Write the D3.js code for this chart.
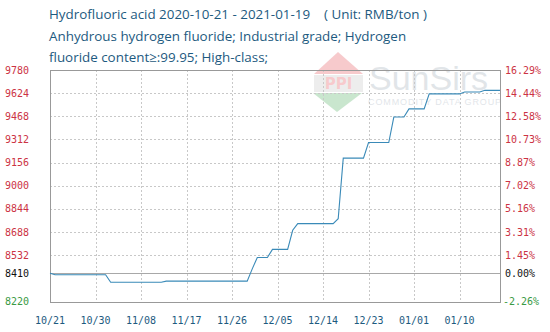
<!DOCTYPE html>
<html><head><meta charset="utf-8">
<script src="https://cdn.jsdelivr.net/npm/d3@7"></script>
<style>html,body{margin:0;padding:0;background:#fff;}svg{display:block;}</style>
</head><body>
<svg id="chart" width="550" height="332"></svg>
<script>
// ---- data ----
const titleLines = [
  "Hydrofluoric acid 2020-10-21 - 2021-01-19    ( Unit: RMB/ton )",
  "Anhydrous hydrogen fluoride; Industrial grade; Hydrogen",
  "fluoride content\u2265:99.95; High-class;"
];
const dates = ["2020-10-21","2020-10-22","2020-11-01","2020-11-02","2020-11-12","2020-11-13",
  "2020-11-29","2020-11-30","2020-12-01","2020-12-03","2020-12-04","2020-12-07","2020-12-08",
  "2020-12-09","2020-12-16","2020-12-17","2020-12-18","2020-12-22","2020-12-23","2020-12-27",
  "2020-12-28","2020-12-30","2020-12-31","2021-01-03","2021-01-04","2021-01-10","2021-01-11",
  "2021-01-14","2021-01-15","2021-01-18"];
const prices = [8410,8400,8400,8350,8350,8357,8357,8440,8517,8517,8571,8571,8700,8745,8745,8778,
  9186,9186,9291,9291,9463,9463,9518,9518,9619,9619,9632,9632,9643,9643];
const xTickDates = ["2020-10-21","2020-10-30","2020-11-08","2020-11-17","2020-11-26","2020-12-05",
  "2020-12-14","2020-12-23","2021-01-01","2021-01-10"];
const xTickLabels = ["10/21","10/30","11/08","11/17","11/26","12/05","12/14","12/23","01/01","01/10"];
const yTicks = [9780,9624,9468,9312,9156,9000,8844,8688,8532,8410,8220];
const pctLabels = ["16.29%","14.44%","12.58%","10.73%","8.87%","7.02%","5.16%","3.31%","1.45%","0.00%","-2.26%"];
const basePrice = 8410;
const xDomain = ["2020-10-21","2021-01-18"];
const yDomain = [8220, 9780];

// ---- layout ----
const L = 50, R = 500, T = 70, B = 301.5;
const parse = d3.utcParse("%Y-%m-%d");
const svg = d3.select("#chart");
const x = d3.scaleUtc().domain(xDomain.map(parse)).range([L, R]);
const y = d3.scaleLinear().domain(yDomain).range([B, T]);

const titleColor = "#1d5a80";
const red = "#cc3344", green = "#3a9a44", black = "#111";
const colorFor = v => v > basePrice ? red : (v < basePrice ? green : black);

// title
svg.append("g").selectAll("text").data(titleLines).join("text")
  .attr("x", 49).attr("y", (d,i) => 19 + i*21.5)
  .attr("fill", titleColor)
  .style("white-space", "pre")
  .style("font-family", "'Open Sans', sans-serif").style("font-size", "13.4px")
  .text(d => d);

// watermark
const wm = svg.append("g").attr("opacity", 0.25);
wm.append("path").attr("d", "M338,52 L363,74 L314,74 Z").attr("fill", "#e0303a");
wm.append("rect").attr("x", 314).attr("y", 75).attr("width", 49).attr("height", 17).attr("fill", "#bbbbbb");
wm.append("text").attr("x", 338.5).attr("y", 89).attr("text-anchor", "middle")
  .attr("fill", "#e0303a").style("font-family", "'DejaVu Sans', sans-serif")
  .style("font-size", "15px").style("font-weight", "bold").text("PPI");
wm.append("path").attr("d", "M313,93 L362,93 L337,112 Z").attr("fill", "#2ea040");
wm.append("text").attr("x", 369).attr("y", 90)
  .attr("fill", "#8a99a8").style("font-family", "'Liberation Sans', Arial, sans-serif")
  .style("font-size", "34px").text("SunSirs");
wm.append("text").attr("x", 368).attr("y", 105)
  .attr("fill", "#8a99a8").style("font-family", "'Liberation Sans', Arial, sans-serif")
  .style("font-size", "9px").style("letter-spacing", "0.9px").text("COMMODITY DATA GROUP");

// grid
const grid = svg.append("g");
grid.selectAll("line.h").data(yTicks.filter(v => v !== basePrice && v !== yDomain[0] && v !== yDomain[1]))
  .join("line").attr("class","h")
  .attr("x1", L).attr("x2", R).attr("y1", d => Math.round(y(d))+0.5).attr("y2", d => Math.round(y(d))+0.5)
  .attr("stroke", "#c8c8c8").attr("stroke-dasharray", "2,2");
grid.selectAll("line.v").data(xTickDates.slice(1).map(parse))
  .join("line").attr("class","v")
  .attr("y1", T).attr("y2", B).attr("x1", d => Math.round(x(d))+0.5).attr("x2", d => Math.round(x(d))+0.5)
  .attr("stroke", "#c8c8c8").attr("stroke-dasharray", "2,2");
// base line
grid.append("line").attr("x1", L).attr("x2", R)
  .attr("y1", Math.round(y(basePrice))+0.5).attr("y2", Math.round(y(basePrice))+0.5)
  .attr("stroke", "#a8a8a8");

// frame
svg.append("rect").attr("x", L+0.5).attr("y", Math.round(T)+0.5)
  .attr("width", R-L).attr("height", Math.round(B)-Math.round(T))
  .attr("fill", "none").attr("stroke", "#999");

// line
const pts = dates.map((d,i) => [parse(d), prices[i]]);
svg.append("path").datum(pts)
  .attr("d", d3.line().x(d => x(d[0])).y(d => y(d[1])))
  .attr("fill", "none").attr("stroke", "#3a8ab8").attr("stroke-width", 1.1);

// left axis labels
const mono = "'DejaVu Sans Mono', monospace";
svg.append("g").selectAll("text").data(yTicks).join("text")
  .attr("x", 5).attr("y", d => y(d)).attr("dy", "0.35em")
  .attr("fill", d => colorFor(d))
  .style("font-family", mono).style("font-size", "10px")
  .text(d => d);
// right axis labels
svg.append("g").selectAll("text").data(yTicks).join("text")
  .attr("x", (d,i) => pctLabels[i].startsWith("-") ? 503 : 505).attr("y", d => y(d)).attr("dy", "0.35em")
  .attr("fill", d => colorFor(d))
  .style("font-family", mono).style("font-size", "10px")
  .text((d,i) => pctLabels[i]);
// x labels
svg.append("g").selectAll("text").data(xTickDates).join("text")
  .attr("x", d => x(parse(d))).attr("y", 324).attr("text-anchor", "middle")
  .attr("fill", titleColor)
  .style("font-family", mono).style("font-size", "10px")
  .text((d,i) => xTickLabels[i]);
</script>
</body></html>
